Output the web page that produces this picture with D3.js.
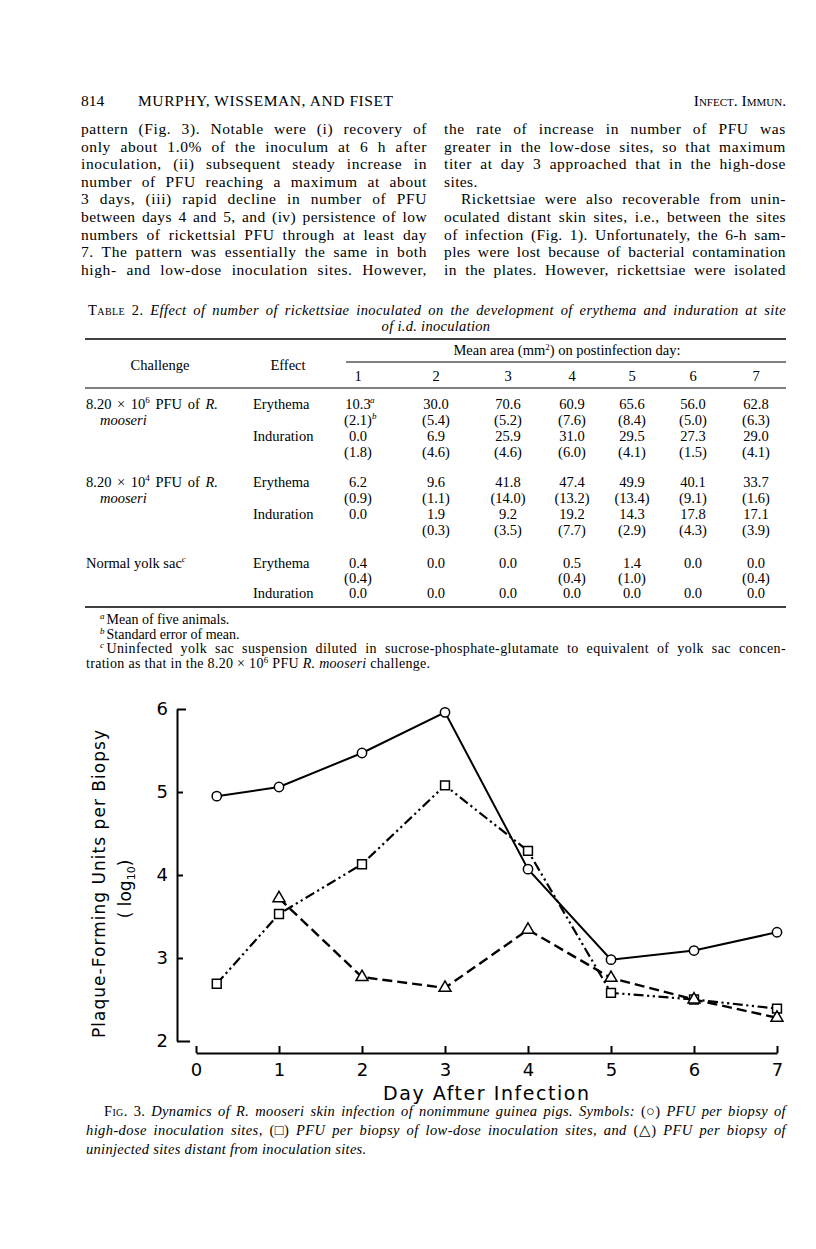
<!DOCTYPE html>
<html>
<head>
<meta charset="utf-8">
<script src="https://cdn.jsdelivr.net/npm/d3@7"></script>
<style>
  body { margin: 0; background: #fff; }
  svg { display: block; }
</style>
</head>
<body>
<script>
// page + table + figure 3, one svg

const PAGE_W = 816, PAGE_H = 1249;

// ---- figure data (log10 PFU per biopsy) ----
const highDays = [0.25, 1, 2, 3, 4, 5, 6, 7];
const highDose = [4.95, 5.06, 5.47, 5.96, 4.07, 2.98, 3.09, 3.31];
const lowDays = [0.25, 1, 2, 3, 4, 5, 6, 7];
const lowDose = [2.69, 3.53, 4.13, 5.08, 4.29, 2.58, 2.50, 2.39];
const distantDays = [1, 2, 3, 4, 5, 6, 7];
const distant = [3.72, 2.77, 2.64, 3.34, 2.76, 2.50, 2.28];
const xTicks = [0, 1, 2, 3, 4, 5, 6, 7];
const yTicks = [2, 3, 4, 5, 6];

// ---- table 2 data (mean area mm2, SE) ----
const tableDays = [1, 2, 3, 4, 5, 6, 7];
const highErythema = [10.3, 30.0, 70.6, 60.9, 65.6, 56.0, 62.8];
const highErythemaSE = [2.1, 5.4, 5.2, 7.6, 8.4, 5.0, 6.3];
const highInduration = [0.0, 6.9, 25.9, 31.0, 29.5, 27.3, 29.0];
const highIndurationSE = [1.8, 4.6, 4.6, 6.0, 4.1, 1.5, 4.1];
const lowErythema = [6.2, 9.6, 41.8, 47.4, 49.9, 40.1, 33.7];
const lowErythemaSE = [0.9, 1.1, 14.0, 13.2, 13.4, 9.1, 1.6];
const lowInduration = [0.0, 1.9, 9.2, 19.2, 14.3, 17.8, 17.1];
const lowIndurationSE = [null, 0.3, 3.5, 7.7, 2.9, 4.3, 3.9];
const normalErythema = [0.4, 0.0, 0.0, 0.5, 1.4, 0.0, 0.0];
const normalErythemaSE = [0.4, null, null, 0.4, 1.0, null, 0.4];
const normalInduration = [0.0, 0.0, 0.0, 0.0, 0.0, 0.0, 0.0];
const normalIndurationSE = [null, null, null, null, null, null, null];

const SERIF = "'Liberation Serif', 'Times New Roman', serif";
const SANS = "'DejaVu Sans', 'Liberation Sans', sans-serif";

const svg = d3.select("body").append("svg")
  .attr("width", PAGE_W)
  .attr("height", PAGE_H);

// stretch a line to a width: a little letter spacing, the rest in the word gaps
function justify(sel, width, maxLs) {
  const txt = sel.text();
  const nat = sel.node().getComputedTextLength();
  const ls = Math.min(maxLs === undefined ? 0.6 : maxLs, Math.max(0, (width - nat) * 0.5 / txt.length));
  sel.attr("letter-spacing", ls);
  const nat2 = sel.node().getComputedTextLength();
  const spaces = (txt.match(/ /g) || []).length;
  if (spaces > 0) sel.attr("word-spacing", (width - nat2) / spaces);
  return sel;
}

// ---------- running head ----------
const head = svg.append("g").attr("font-family", SERIF).attr("font-size", 15.5);
head.append("text").attr("x", 81).attr("y", 106).text("814");
head.append("text").attr("x", 138).attr("y", 106)
  .attr("textLength", 255).attr("lengthAdjust", "spacing")
  .text("MURPHY, WISSEMAN, AND FISET");
head.append("text").attr("x", 786).attr("y", 106).attr("text-anchor", "end")
  .style("font-variant", "small-caps")
  .text("Infect. Immun.");

// ---------- body text ----------
const leftLines = [
  "pattern (Fig. 3). Notable were (i) recovery of",
  "only about 1.0% of the inoculum at 6 h after",
  "inoculation, (ii) subsequent steady increase in",
  "number of PFU reaching a maximum at about",
  "3 days, (iii) rapid decline in number of PFU",
  "between days 4 and 5, and (iv) persistence of low",
  "numbers of rickettsial PFU through at least day",
  "7. The pattern was essentially the same in both",
  "high- and low-dose inoculation sites. However,"
];
const rightLines = [
  {t: "the rate of increase in number of PFU was", j: true},
  {t: "greater in the low-dose sites, so that maximum", j: true},
  {t: "titer at day 3 approached that in the high-dose", j: true},
  {t: "sites.", j: false},
  {t: "Rickettsiae were also recoverable from unin-", j: true, indent: 17},
  {t: "oculated distant skin sites, i.e., between the sites", j: true},
  {t: "of infection (Fig. 1). Unfortunately, the 6-h sam-", j: true},
  {t: "ples were lost because of bacterial contamination", j: true},
  {t: "in the plates. However, rickettsiae were isolated", j: true}
];

const body = svg.append("g").attr("font-family", SERIF).attr("font-size", 15.5);
leftLines.forEach((t, i) => {
  const tx = body.append("text")
    .attr("x", 81).attr("y", 134 + i * 17.6)
    .text(t);
  justify(tx, 346);
});
rightLines.forEach((d, i) => {
  const ind = d.indent || 0;
  const tx = body.append("text")
    .attr("x", 444 + ind).attr("y", 134 + i * 17.6)
    .text(d.t);
  if (d.j) justify(tx, 342 - ind);
  else tx.attr("letter-spacing", 0.4);
});

// ---------- table 2 ----------
const tbl = svg.append("g").attr("font-family", SERIF).attr("font-size", 14.5);

const t1 = tbl.append("text").attr("x", 88).attr("y", 315);
t1.append("tspan").style("font-variant", "small-caps").text("Table 2. ");
t1.append("tspan").attr("font-style", "italic")
  .text("Effect of number of rickettsiae inoculated on the development of erythema and induration at site");
justify(t1, 698, 0.4);
tbl.append("text").attr("x", 436).attr("y", 331).attr("text-anchor", "middle")
  .attr("font-style", "italic").attr("letter-spacing", 0.3).text("of i.d. inoculation");

// rules
tbl.append("line").attr("x1", 85).attr("x2", 786).attr("y1", 339).attr("y2", 339)
  .attr("stroke", "#000").attr("stroke-width", 1.6);
tbl.append("line").attr("x1", 346).attr("x2", 786).attr("y1", 362).attr("y2", 362)
  .attr("stroke", "#000").attr("stroke-width", 1);
tbl.append("line").attr("x1", 85).attr("x2", 786).attr("y1", 388).attr("y2", 388)
  .attr("stroke", "#000").attr("stroke-width", 1.2);
tbl.append("line").attr("x1", 85).attr("x2", 786).attr("y1", 607).attr("y2", 607)
  .attr("stroke", "#000").attr("stroke-width", 1.6);

// column positions
const col = d3.scaleOrdinal().domain(tableDays).range([358, 436, 508, 572, 632, 693, 756]);

const mh = tbl.append("text").attr("x", 567).attr("y", 355).attr("text-anchor", "middle");
mh.append("tspan").text("Mean area (mm");
mh.append("tspan").attr("font-size", 9).attr("dy", -5).text("2");
mh.append("tspan").attr("dy", 5).text(") on postinfection day:");

tbl.append("text").attr("x", 160).attr("y", 370).attr("text-anchor", "middle").text("Challenge");
tbl.append("text").attr("x", 288).attr("y", 370).attr("text-anchor", "middle").text("Effect");
tbl.selectAll("text.day").data(tableDays).enter().append("text")
  .attr("class", "day")
  .attr("x", d => col(d)).attr("y", 381).attr("text-anchor", "middle")
  .text(d => d);

const groups = [
  {label: ["8.20 × 10|6| PFU of ", "R.", "mooseri"], top: 409,
   rows: [{effect: "Erythema", mean: highErythema, se: highErythemaSE},
          {effect: "Induration", mean: highInduration, se: highIndurationSE}]},
  {label: ["8.20 × 10|4| PFU of ", "R.", "mooseri"], top: 487,
   rows: [{effect: "Erythema", mean: lowErythema, se: lowErythemaSE},
          {effect: "Induration", mean: lowInduration, se: lowIndurationSE}]},
  {label: ["Normal yolk sac"], top: 568, step: 15,
   rows: [{effect: "Erythema", mean: normalErythema, se: normalErythemaSE},
          {effect: "Induration", mean: normalInduration, se: normalIndurationSE}]}
];

const f1 = d3.format(".1f");

groups.forEach((g, gi) => {
  const step = g.step || 16;
  // challenge label
  const lab = tbl.append("text").attr("x", 86).attr("y", g.top).attr("word-spacing", 2);
  if (g.label.length === 3) {
    const p = g.label[0].split("|");
    lab.append("tspan").text(p[0]);
    lab.append("tspan").attr("font-size", 9).attr("dy", -6).text(p[1]);
    lab.append("tspan").attr("dy", 6).text(p[2]);
    lab.append("tspan").attr("font-style", "italic").text(g.label[1]);
    tbl.append("text").attr("x", 100).attr("y", g.top + step)
      .attr("font-style", "italic").text(g.label[2]);
  } else {
    lab.attr("word-spacing", 0);
    lab.append("tspan").text(g.label[0]);
    lab.append("tspan").attr("font-size", 9).attr("dy", -6).attr("font-style", "italic").text("c");
  }
  let r = 0;
  g.rows.forEach((row, ri) => {
    const yMean = g.top + r * step;
    tbl.append("text").attr("x", 253).attr("y", yMean).text(row.effect);
    row.mean.forEach((v, k) => {
      tbl.append("text").attr("x", col(tableDays[k])).attr("y", yMean)
        .attr("text-anchor", "middle").text(f1(v));
      if (gi === 0 && ri === 0 && k === 0) {
        tbl.append("text").attr("x", col(tableDays[k]) + 12).attr("y", yMean - 6)
          .attr("font-size", 9).attr("font-style", "italic").text("a");
      }
    });
    r++;
    if (row.se.some(v => v !== null)) {
      const ySe = g.top + r * step;
      row.se.forEach((v, k) => {
        if (v === null) return;
        tbl.append("text").attr("x", col(tableDays[k])).attr("y", ySe)
          .attr("text-anchor", "middle").text("(" + f1(v) + ")");
        if (gi === 0 && ri === 0 && k === 0) {
          tbl.append("text").attr("x", col(tableDays[k]) + 14).attr("y", ySe - 6)
            .attr("font-size", 9).attr("font-style", "italic").text("b");
        }
      });
      r++;
    }
  });
});

// footnotes
const fn = svg.append("g").attr("font-family", SERIF).attr("font-size", 14);
const footnotes = [
  {x: 100, sup: "a", t: "Mean of five animals."},
  {x: 100, sup: "b", t: "Standard error of mean."},
  {x: 100, sup: "c", t: "Uninfected yolk sac suspension diluted in sucrose-phosphate-glutamate to equivalent of yolk sac concen-", w: 686}
];
footnotes.forEach((d, i) => {
  const tx = fn.append("text").attr("x", d.x).attr("y", 624 + i * 14.5);
  tx.append("tspan").attr("font-size", 9).attr("font-style", "italic").attr("dy", -5).text(d.sup);
  tx.append("tspan").attr("dy", 5).attr("dx", 2).text(d.t);
  if (d.w) justify(tx, d.w - 2, 0.4);
});
const fl = fn.append("text").attr("x", 86).attr("y", 667.5).attr("letter-spacing", 0.3);
fl.append("tspan").text("tration as that in the 8.20 × 10");
fl.append("tspan").attr("font-size", 9).attr("dy", -5).text("6");
fl.append("tspan").attr("dy", 5).text(" PFU ");
fl.append("tspan").attr("font-style", "italic").text("R. mooseri");
fl.append("tspan").text(" challenge.");

// ---------- figure 3 ----------
const x = d3.scaleLinear().domain([0, 7]).range([196, 777]);
const y = d3.scaleLinear().domain([2, 6]).range([1041, 709]);
const X_AXIS_Y = 1053;
const Y_AXIS_X = 177;

const fig = svg.append("g");

const yAxis = d3.axisLeft(y).tickValues(yTicks).tickSizeInner(-6).tickSizeOuter(0).tickPadding(9)
  .tickFormat(d3.format("d"));
const gy = fig.append("g").attr("transform", "translate(" + Y_AXIS_X + ",0)").call(yAxis);
gy.selectAll(".tick line").attr("x2", d => d === 6 ? 9 : (d === 2 ? 13 : 6));
gy.selectAll("path, line").attr("stroke", "#000").attr("stroke-width", 2);
gy.selectAll("text").attr("font-family", SANS).attr("font-size", 18).attr("fill", "#000");

const xAxis = d3.axisBottom(x).tickValues(xTicks).tickSizeInner(-7).tickSizeOuter(0).tickPadding(10)
  .tickFormat(d3.format("d"));
const gx = fig.append("g").attr("transform", "translate(0," + X_AXIS_Y + ")").call(xAxis);
gx.selectAll("path, line").attr("stroke", "#000").attr("stroke-width", 2);
gx.selectAll("text").attr("font-family", SANS).attr("font-size", 18).attr("fill", "#000");

// axis titles
const yl = fig.append("g").attr("font-family", SANS).attr("font-size", 17);
yl.append("text").attr("transform", "translate(105,884) rotate(-90)")
  .attr("text-anchor", "middle").attr("textLength", 308).attr("lengthAdjust", "spacing")
  .text("Plaque-Forming Units per Biopsy");
const yl2 = yl.append("text").attr("transform", "translate(131,889) rotate(-90)")
  .attr("text-anchor", "middle");
yl2.append("tspan").text("( log");
yl2.append("tspan").attr("font-size", 11).attr("dy", 4).text("10");
yl2.append("tspan").attr("dy", -4).text(")");

fig.append("text").attr("x", 486).attr("y", 1100).attr("text-anchor", "middle")
  .attr("font-family", SANS).attr("font-size", 19)
  .attr("textLength", 206).attr("lengthAdjust", "spacing")
  .text("Day After Infection");

// series
const series = [
  {days: highDays, vals: highDose, dash: null, width: 2, mark: "circle"},
  {days: lowDays, vals: lowDose, dash: "10,3.5,2.2,3.5,2.2,3.5", width: 2.2, mark: "square"},
  {days: distantDays, vals: distant, dash: "10,5", width: 2.4, mark: "triangle"}
];

const line = d3.line().x(d => x(d[0])).y(d => y(d[1]));

series.forEach(s => {
  fig.append("path")
    .datum(s.days.map((d, i) => [d, s.vals[i]]))
    .attr("d", line)
    .attr("fill", "none")
    .attr("stroke", "#000")
    .attr("stroke-width", s.width)
    .attr("stroke-dasharray", s.dash);
});

const symbolMap = {circle: d3.symbolCircle, square: d3.symbolSquare, triangle: d3.symbolTriangle};
const sizeMap = {circle: 68, square: 78, triangle: 62};
series.forEach(s => {
  fig.selectAll(null)
    .data(s.days.map((d, i) => [d, s.vals[i]]))
    .enter().append("path")
      .attr("transform", d => "translate(" + x(d[0]) + "," + y(d[1]) + ")")
      .attr("d", d3.symbol().type(symbolMap[s.mark]).size(sizeMap[s.mark]))
      .attr("fill", "#fff")
      .attr("stroke", "#000")
      .attr("stroke-width", 1.5);
});

// caption
const cap = svg.append("g").attr("font-family", SERIF).attr("font-size", 14.5);
const c1 = cap.append("text").attr("x", 104).attr("y", 1116);
c1.append("tspan").style("font-variant", "small-caps").text("Fig. 3. ");
c1.append("tspan").attr("font-style", "italic")
  .text("Dynamics of R. mooseri skin infection of nonimmune guinea pigs. Symbols: ");
c1.append("tspan").text("(○)");
c1.append("tspan").attr("font-style", "italic").text(" PFU per biopsy of");
justify(c1, 682, 0.4);
const c2 = cap.append("text").attr("x", 86).attr("y", 1135);
c2.append("tspan").attr("font-style", "italic").text("high-dose inoculation sites, ");
c2.append("tspan").text("(□)");
c2.append("tspan").attr("font-style", "italic").text(" PFU per biopsy of low-dose inoculation sites, and ");
c2.append("tspan").text("(△)");
c2.append("tspan").attr("font-style", "italic").text(" PFU per biopsy of");
justify(c2, 700, 0.4);
cap.append("text").attr("x", 86).attr("y", 1154).attr("font-style", "italic").attr("letter-spacing", 0.3)
  .text("uninjected sites distant from inoculation sites.");
</script>
</body>
</html>
